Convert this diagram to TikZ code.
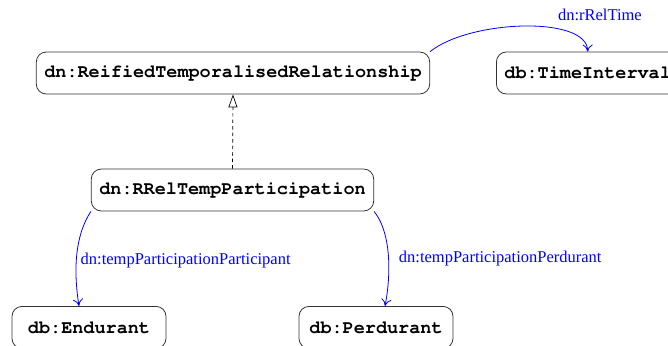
\documentclass[tikz,border=0pt]{standalone}
\usepackage[T1,TU]{fontenc}
\usepackage{fontspec}
\setmainfont{Liberation Serif}
\usetikzlibrary{arrows.meta}
% bold Courier for the class names
\newcommand{\clsfont}{\fontencoding{T1}\fontfamily{pcr}\fontseries{b}\fontsize{18.5}{20}\selectfont}
\begin{document}
\begin{tikzpicture}[x=1pt,y=-1pt,
  cls/.style={draw=black!80, line width=0.8pt, rounded corners=10pt,
    minimum height=42pt, inner xsep=8pt, font=\clsfont},
  wide/.style={cls, minimum width=154pt},
  rel/.style={blue, line width=0.8pt, -{To[length=7pt,width=10pt]}},
  lbl/.style={text=blue, inner sep=2pt, font=\fontsize{16.5}{18}\selectfont},
  isa/.style={line width=0.7pt, dash pattern=on 3.5pt off 3pt,
    -{Triangle[open,length=13pt,width=9pt]}}]
\useasboundingbox (0,0) rectangle (668,345);
\clip (0,0) rectangle (668,345);

% classes
\node[cls]  (reified) at (233,73)   {dn:ReifiedTemporalisedRelationship};
\node[cls, anchor=west] (time) at (496,73) {db:TimeInterval};
\node[cls]  (part)    at (232.5,190) {dn:RRelTempParticipation};
\node[wide, anchor=north] (endur) at (89,306)  {db:Endurant};
\node[wide, anchor=north] (perd)  at (376,306) {db:Perdurant};

% subclass link
\draw[isa] (part.north) -- (reified.south);

% properties
\draw[rel] (reified.north east) .. controls +(40,-32) and +(0,-36) .. (time.north)
  node[lbl, pos=0.5, xshift=76pt, yshift=11pt] (lrt) {dn:rRelTime};
\draw[rel] (part.south west) .. controls +(-19,29) and +(-4,-25) .. ([xshift=-10pt]endur.north)
  node[lbl, pos=0.5, anchor=west, xshift=2pt] (lpp) {dn:tempParticipationParticipant};
\draw[rel] (part.south east) .. controls +(19,24) and +(5,-25) .. ([xshift=9pt]perd.north)
  node[lbl, pos=0.5, anchor=west, xshift=8pt] (lpd) {dn:tempParticipationPerdurant};
\end{tikzpicture}
\end{document}
